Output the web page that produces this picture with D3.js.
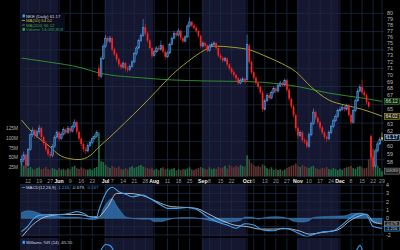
<!DOCTYPE html>
<html>
<head>
<meta charset="utf-8">
<title>NKE Daily</title>
<script src="https://d3js.org/d3.v7.min.js"></script>
<style>
  body { margin: 0; background: #000; }
  svg { display: block; font-family: "Liberation Sans", Arial, sans-serif; }
</style>
</head>
<body>
<div id="chart"></div>
<script>
// daily bars, 7 May 2014 .. 29 Dec 2014 (index = trading day)
var opens = [58.0,58.3,58.9,57.6,59.6,61.5,62.1,61.4,61.9,62.4,
  61.2,60.4,59.6,59.0,58.8,60.0,61.2,61.8,61.0,61.6,
  62.2,61.8,62.4,62.0,62.6,63.2,61.9,61.0,60.3,59.6,
  59.4,60.1,60.5,61.0,61.3,71.0,69.8,72.5,74.5,75.8,
  75.3,75.8,74.0,73.2,72.4,71.6,71.2,71.8,71.0,70.8,
  71.3,72.0,73.3,74.2,75.4,76.2,77.6,76.6,75.4,74.2,
  73.0,73.6,74.2,74.0,74.6,73.6,72.8,73.4,74.8,75.8,
  76.6,76.3,77.0,75.8,75.3,76.0,77.8,78.5,77.9,77.5,
  77.0,76.2,74.5,75.0,74.6,73.8,74.5,74.8,75.0,74.2,
  73.0,72.6,72.2,72.5,71.6,71.0,70.4,70.0,69.5,68.8,
  69.2,69.4,69.3,74.6,72.0,70.4,69.6,68.8,68.2,67.4,
  65.0,66.2,67.0,66.6,67.4,68.0,67.6,68.4,68.8,68.5,
  69.2,67.8,66.5,65.4,64.2,62.4,61.4,61.8,60.8,60.6,
  60.0,61.5,63.0,64.6,63.8,63.2,62.5,61.8,61.2,61.0,
  61.8,62.6,63.4,64.0,64.8,65.0,65.3,65.0,65.5,64.2,
  63.2,64.8,66.2,67.6,68.2,67.4,67.0,66.0,61.3,58.6,
  57.5,59.4,60.3,60.9];
var highs = [58.8,59.3,59.1,59.8,61.8,62.5,62.3,62.2,62.8,62.6,
  61.4,60.7,59.9,59.3,60.3,61.5,62.1,62.0,61.9,62.5,
  62.4,62.7,62.6,62.9,63.6,63.4,62.1,61.2,60.5,59.9,
  60.4,60.8,61.3,61.6,62.1,71.6,72.9,74.9,76.3,76.1,
  76.2,76.0,74.3,73.5,72.7,71.9,72.1,72.0,71.3,71.6,
  72.3,73.6,74.5,75.7,76.6,79.0,78.2,76.9,75.6,74.4,
  73.9,74.5,74.6,75.4,74.8,73.8,73.7,75.1,76.1,77.0,
  76.9,77.4,77.2,76.0,76.3,78.2,79.3,78.7,78.2,77.8,
  77.2,76.4,75.3,75.2,74.8,74.8,75.1,75.3,75.2,74.4,
  73.3,72.9,72.8,72.7,71.8,71.2,70.7,70.2,69.7,69.5,
  69.7,69.6,76.4,74.8,72.2,70.6,69.8,69.0,68.4,67.7,
  66.5,67.3,67.3,67.7,68.3,68.2,68.7,69.1,69.0,69.5,
  69.4,68.0,66.7,65.6,64.4,62.6,62.1,62.0,61.1,60.9,
  61.8,63.3,65.1,64.8,64.0,63.4,62.7,62.0,61.4,62.1,
  62.9,63.7,64.3,65.1,65.4,65.6,65.5,65.8,65.7,64.4,
  65.1,66.5,68.0,68.6,69.3,67.7,67.2,66.2,61.6,58.9,
  59.7,60.6,61.2,61.8];
var lows = [57.6,58.0,57.3,57.4,59.4,61.2,61.0,61.1,61.6,60.9,
  60.1,59.3,58.7,58.5,58.6,59.8,61.0,60.7,60.8,61.4,
  61.5,61.6,61.7,61.8,62.4,61.6,60.7,60.0,59.3,59.0,
  59.2,59.9,60.3,60.8,61.1,69.3,69.5,72.3,74.2,75.0,
  75.0,73.7,72.9,72.0,71.2,70.8,71.0,70.6,70.4,70.6,
  71.1,71.8,73.0,74.0,75.1,76.0,76.3,75.1,73.9,72.6,
  72.8,73.4,73.7,73.8,73.3,72.4,72.6,73.2,74.6,75.6,
  76.0,76.1,75.5,75.0,75.1,75.8,77.6,77.6,77.2,76.7,
  75.9,74.1,74.3,74.3,73.5,73.6,74.3,74.6,73.9,72.7,
  72.3,71.9,72.0,71.3,70.7,70.1,69.7,69.1,68.5,68.6,
  69.0,68.7,69.1,71.7,70.1,69.3,68.5,67.9,67.1,64.6,
  64.8,66.0,66.3,66.4,67.2,67.3,67.4,68.2,68.2,68.3,
  67.5,66.2,65.1,63.9,62.0,61.0,61.2,60.5,60.3,59.7,
  59.8,61.3,62.8,63.5,62.9,62.2,61.5,60.9,60.6,60.8,
  61.6,62.4,63.2,63.8,64.6,64.8,64.7,64.8,63.9,62.9,
  63.0,64.6,66.0,67.4,67.1,66.7,65.7,65.1,58.2,57.0,
  57.3,59.2,60.1,60.7];
var closes = [58.3,58.9,57.6,59.6,61.5,62.1,61.4,61.9,62.4,61.2,
  60.4,59.6,59.0,58.8,60.0,61.2,61.8,61.0,61.6,62.2,
  61.8,62.4,62.0,62.6,63.2,61.9,61.0,60.3,59.6,59.4,
  60.1,60.5,61.0,61.3,61.8,69.8,72.5,74.5,75.8,75.3,
  75.8,74.0,73.2,72.4,71.6,71.2,71.8,71.0,70.8,71.3,
  72.0,73.3,74.2,75.4,76.2,77.6,76.6,75.4,74.2,73.0,
  73.6,74.2,74.0,74.6,73.6,72.8,73.4,74.8,75.8,76.6,
  76.3,77.0,75.8,75.3,76.0,77.8,78.5,77.9,77.5,77.0,
  76.2,74.5,75.0,74.6,73.8,74.5,74.8,75.0,74.2,73.0,
  72.6,72.2,72.5,71.6,71.0,70.4,70.0,69.5,68.8,69.2,
  69.4,69.0,74.8,72.0,70.4,69.6,68.8,68.2,67.4,65.0,
  66.2,67.0,66.6,67.4,68.0,67.6,68.4,68.8,68.5,69.2,
  67.8,66.5,65.4,64.2,62.4,61.4,61.8,60.8,60.6,60.0,
  61.5,63.0,64.6,63.8,63.2,62.5,61.8,61.2,61.0,61.8,
  62.6,63.4,64.0,64.8,65.0,65.3,65.0,65.5,64.2,63.2,
  64.8,66.2,67.6,68.2,67.4,67.0,66.0,65.4,58.6,57.4,
  59.4,60.3,60.9,61.17];
// volume in millions
var volumes = [35,28,30,22,25,20,18,22,24,19,
  21,25,20,18,22,20,17,22,18,20,
  17,21,19,25,28,22,20,24,21,19,
  18,20,17,22,25,115,40,38,30,25,
  22,28,24,22,26,20,18,22,19,24,
  27,22,25,28,30,26,24,22,20,23,
  18,20,17,22,24,19,21,18,20,22,
  16,19,17,20,18,21,24,19,17,20,
  22,25,22,20,18,24,19,21,20,25,
  22,24,28,21,30,26,24,28,25,30,
  27,26,55,45,35,30,26,28,25,32,
  28,22,20,24,18,20,17,19,16,18,
  22,25,28,30,34,28,25,30,27,24,
  22,26,28,22,20,19,23,21,25,20,
  18,22,19,17,20,18,22,24,26,28,
  22,20,25,27,24,21,23,45,105,72,
  38,28,22,14.09];

// moving averages, read at sample days
var ma50Idx = [0,5,13,17,22,26,31,35,40,47,54,61,68,75,83,87,96,103,111,118,124,131,139,146,154,163];
var ma50Val = [63.5,61.8,59.9,58.9,58.4,58.3,58.8,59.9,61.2,63.2,65.3,67.6,70.0,72.0,73.9,74.5,74.3,73.9,72.8,71.7,70.5,68.2,66.3,65.6,65.0,64.02];
var ma200Idx = [0,12,27,35,40,53,68,83,103,117,126,139,154,163];
var ma200Val = [72.6,72.0,71.1,70.3,70.0,69.6,69.25,69.1,69.0,68.65,68.2,67.3,66.6,66.12];

// MACD(12,26,9)
var macdIdx = [0,3,5,8,13,17,22,25,28,31,34,35,39,41,44,48,50,55,58,63,66,70,75,79,84,88,93,97,101,105,109,114,118,121,126,129,132,135,141,144,149,153,156,159,163];
var macdVal = [-1.6,-0.9,-0.2,0.35,0.45,0.45,0.6,0.8,0.6,0.15,0.2,1.0,3.4,3.75,3.2,2.8,2.6,2.8,2.4,1.6,1.2,1.2,1.3,1.1,0.2,-0.4,-0.8,-1.2,-0.65,-0.8,-1.4,-1.5,-1.2,-1.3,-1.9,-2.2,-1.95,-1.7,-1.5,-1.0,0.1,0.6,0.4,-1.0,-1.216];
var sigIdx = [0,5,10,14,20,26,31,34,39,43,48,54,58,63,68,75,79,84,90,96,102,108,114,120,126,130,136,143,149,153,156,159,163];
var sigVal = [-2.3,-0.8,0.1,0.35,0.45,0.45,0.2,0.1,1.4,3.0,3.0,2.8,2.4,1.8,1.4,1.3,1.2,0.6,-0.2,-0.8,-1.0,-1.3,-1.3,-1.25,-1.55,-1.9,-1.7,-1.4,-0.2,0.3,0.5,-0.4,-0.679];
var histIdx = [0,3,6,9,12,16,20,25,28,30,33,35,37,39,41,43,45,47,50,54,58,60,63,66,70,76,80,84,88,92,96,99,101,104,107,110,114,118,121,123,127,130,132,136,141,146,150,154,156,158,160,163];
var histVal = [0.7,0.9,0.8,0.5,0.3,0.25,0.15,0.15,0.0,-0.1,-0.15,0.0,1.2,2.0,2.4,1.5,0.8,0.2,0.0,-0.1,-0.1,-0.4,-0.4,-0.2,0.05,0.1,0.0,-0.2,-0.4,-0.5,-0.4,-0.25,0.15,0.15,-0.1,0.1,0.2,0.15,-0.1,-0.35,-0.45,-0.3,0.1,0.2,0.25,0.3,0.6,0.5,0.3,-0.3,-0.6,-0.537];

// Williams %R(14), only the tops reach into view
var wrIdx = [0,33,36,38,40,43,47,99,102,105,149,152,153,155,160,163];
var wrVal = [-60,-50,-18,-3,-6,-35,-60,-50,-22,-55,-45,-14,-5,-35,-80,-65.55];

// axis labels
var tickIdx = [3,8,13,17,22,27,32,38,41,46,51,56,60,66,71,76,82,85,90,95,102,105,110,115,120,125,130,135,140,144,149,154,159,163];
var tickLabels = ["12","19","27","Jun","9","16","23","Jul","7","14","21","28","Aug","11","18","25","Sep","8","15","22","Oct","6","13","20","27","Nov","10","17","24","Dec","8","15","22","29"];
var monthStarts = [0,17,38,60,82,102,125,144];
var priceTicks = [57,58,59,60,61,62,63,64,65,66,67,68,69,70,71,72,73,74,75,76,77,78,79,80];
var volTicks = [25,50,75,100,125];
var volTickLabels = ["25M","50M","75M","100M","125M"];
var macdTicks = [-2,-1,0,1,2,3,4];

var W = 400, H = 250;
var left = 20, right = 384;
var panels = [[0, 177], [184, 236.5], [238, 250]];
var n = closes.length;

var x = d3.scaleLinear().domain([0, n - 1]).range([21.5, 382]);
var y = d3.scaleLog().domain([57, 79]).range([170, 19]);
var yVol = d3.scaleLinear().domain([0, 125]).range([176.5, 128.7]);
var yMacd = d3.scaleLinear().domain([-2, 4]).range([234.9, 185.1]);
var yW = d3.scaleLinear().domain([-100, 0]).range([278, 243.5]);

var svg = d3.select("#chart").append("svg")
    .attr("width", W).attr("height", H)
    .style("background", "#000");

var defs = svg.append("defs");
panels.forEach(function(p, i) {
  defs.append("clipPath").attr("id", "clip" + i)
    .append("rect").attr("x", left).attr("y", p[0])
    .attr("width", right - left).attr("height", p[1] - p[0]);
});

// month bands + grid in each panel
panels.forEach(function(p, pi) {
  var g = svg.append("g").attr("clip-path", "url(#clip" + pi + ")");
  monthStarts.forEach(function(s, i) {
    var x0 = i === 0 ? left : x(s - 0.5);
    var x1 = i === monthStarts.length - 1 ? right : x(monthStarts[i + 1] - 0.5);
    g.append("rect").attr("x", x0).attr("y", p[0])
      .attr("width", x1 - x0).attr("height", p[1] - p[0])
      .attr("fill", i % 2 === 0 ? "#15162f" : "#000");
  });
  g.selectAll("line.v").data(tickIdx).enter().append("line")
    .attr("x1", function(d) { return x(d); }).attr("x2", function(d) { return x(d); })
    .attr("y1", p[0]).attr("y2", p[1])
    .attr("stroke", "#1b2b42").attr("stroke-width", 0.8);
  var hs = pi === 0 ? d3.range(10).map(function(k) { return 13.3 + k * 18.3; })
         : pi === 1 ? macdTicks.map(function(d) { return yMacd(d); }) : [];
  g.selectAll("line.h").data(hs).enter().append("line")
    .attr("x1", left).attr("x2", right)
    .attr("y1", function(d) { return d; }).attr("y2", function(d) { return d; })
    .attr("stroke", "#1b2b42").attr("stroke-width", 0.8);
});

var main = svg.append("g").attr("clip-path", "url(#clip0)");
var bw = 1.7;

// volume
main.selectAll("rect.vol").data(d3.range(n)).enter().append("rect")
  .attr("x", function(i) { return x(i) - bw / 2; })
  .attr("width", bw)
  .attr("y", function(i) { return yVol(volumes[i]); })
  .attr("height", function(i) { return yVol(0) - yVol(volumes[i]); })
  .attr("fill", function(i) { return (i === 0 || closes[i] >= closes[i - 1]) ? "#1f6a44" : "#5c3333"; });

// moving averages
var maLine = d3.line().curve(d3.curveMonotoneX)
  .x(function(d) { return x(d[0]); }).y(function(d) { return y(d[1]); });
main.append("path").datum(d3.zip(ma200Idx, ma200Val))
  .attr("d", maLine).attr("fill", "none").attr("stroke", "#2d8a2d").attr("stroke-width", 1);
main.append("path").datum(d3.zip(ma50Idx, ma50Val))
  .attr("d", maLine).attr("fill", "none").attr("stroke", "#a59c2c").attr("stroke-width", 1);

// candles
function candleColor(i) {
  if (i === n - 1) return "#e6d64a";
  return closes[i] >= opens[i] ? "#4d9ae6" : "#ff2020";
}
var candles = main.selectAll("g.c").data(d3.range(n)).enter().append("g");
candles.append("line")
  .attr("x1", function(i) { return x(i); }).attr("x2", function(i) { return x(i); })
  .attr("y1", function(i) { return y(highs[i]); }).attr("y2", function(i) { return y(lows[i]); })
  .attr("stroke", candleColor).attr("stroke-width", 0.6);
candles.append("rect")
  .attr("x", function(i) { return x(i) - bw / 2; })
  .attr("width", bw)
  .attr("y", function(i) { return y(Math.max(opens[i], closes[i])); })
  .attr("height", function(i) { return Math.max(0.8, Math.abs(y(opens[i]) - y(closes[i]))); })
  .attr("fill", function(i) {
    if (i === n - 1) return "#e6d64a";
    return closes[i] >= opens[i] ? "#24568c" : "#ff2020";
  })
  .attr("stroke", function(i) { return closes[i] >= opens[i] && i !== n - 1 ? "#5aa6f0" : "none"; })
  .attr("stroke-width", 0.5);

// MACD panel
var mg = svg.append("g").attr("clip-path", "url(#clip1)");
var hArea = d3.area().curve(d3.curveMonotoneX)
  .x(function(d) { return x(d[0]); }).y0(yMacd(0)).y1(function(d) { return yMacd(d[1]); });
mg.append("path").datum(d3.zip(histIdx, histVal))
  .attr("d", hArea).attr("fill", "#2f6ea8").attr("fill-opacity", 0.85)
  .attr("stroke", "#4e9ad8").attr("stroke-width", 0.4);
var mLine = d3.line().curve(d3.curveMonotoneX)
  .x(function(d) { return x(d[0]); }).y(function(d) { return yMacd(d[1]); });
mg.append("path").datum(d3.zip(sigIdx, sigVal))
  .attr("d", mLine).attr("fill", "none").attr("stroke", "#c4c8cc").attr("stroke-width", 0.9);
mg.append("path").datum(d3.zip(macdIdx, macdVal))
  .attr("d", mLine).attr("fill", "none").attr("stroke", "#3fa2f0").attr("stroke-width", 1.1);

// Williams %R panel
var wg = svg.append("g").attr("clip-path", "url(#clip2)");
wg.append("path").datum(d3.zip(wrIdx, wrVal))
  .attr("d", d3.line().curve(d3.curveMonotoneX)
    .x(function(d) { return x(d[0]); }).y(function(d) { return yW(d[1]); }))
  .attr("fill", "none").attr("stroke", "#3fa2f0").attr("stroke-width", 1.1);

// value boxes on the right (positions in px, used to hide covered tick labels)
var boxes = [
  {y: y(ma200Val[ma200Val.length - 1]), t: "66.12", s: "#3a8a3a", f: "#0d260d", c: "#d8d8d8"},
  {y: y(ma50Val[ma50Val.length - 1]), t: "64.02", s: "#b0a630", f: "#262308", c: "#e8e8e8"},
  {y: y(closes[n - 1]), t: "61.17", s: "#8fb4dc", f: "#0b1a30", c: "#ffffff"},
  {y: yVol(volumes[n - 1]), t: "14092859", s: "#8a8a8a", f: "#1c1c1c", c: "#d0d0d0"},
  {y: yMacd(sigVal[sigVal.length - 1]) - 0.4, t: "-0.679", s: "#a0a0a0", f: "#1a1a1a", c: "#d0d0d0"},
  {y: yMacd(macdVal[macdVal.length - 1]) + 0.4, t: "-1.216", s: "#4aa0e0", f: "#0b1a30", c: "#d0d0d0"}
];
function covered(py) {
  return boxes.some(function(b) { return Math.abs(b.y - py) < 5.2; });
}

// right price axis
var axisFont = 5.4;
svg.selectAll("text.pt").data(priceTicks.filter(function(d) { return !covered(y(d)); }))
  .enter().append("text")
  .attr("x", 387).attr("y", function(d) { return y(d); }).attr("dy", "0.35em")
  .attr("font-size", axisFont).attr("fill", "#b8b8b8").text(function(d) { return d; });
svg.selectAll("text.mt").data(macdTicks.filter(function(d) { return !covered(yMacd(d)); }))
  .enter().append("text")
  .attr("x", 386).attr("y", function(d) { return yMacd(d); }).attr("dy", "0.35em")
  .attr("font-size", axisFont).attr("fill", "#b8b8b8").text(function(d) { return d; });

boxes.forEach(function(b) {
  var h = b.y > 180 ? 4.6 : 6;
  svg.append("rect").attr("x", 384.5).attr("y", b.y - h / 2).attr("width", 15).attr("height", h)
    .attr("fill", b.f).attr("stroke", b.s).attr("stroke-width", 0.6);
  var txt = svg.append("text").attr("x", 385.5).attr("y", b.y).attr("dy", "0.35em")
    .attr("font-size", b.t.length > 6 ? 3.6 : (b.y > 180 ? 4.2 : 4.9))
    .attr("fill", b.c).text(b.t);
  if (b.t.length > 6) txt.attr("textLength", 13).attr("lengthAdjust", "spacingAndGlyphs");
});

// left volume axis
svg.selectAll("text.vt").data(volTicks).enter().append("text")
  .attr("x", 18).attr("y", function(d) { return yVol(d); }).attr("dy", "0.35em")
  .attr("text-anchor", "end").attr("font-size", 4.8).attr("fill", "#b0b0b0")
  .text(function(d, i) { return volTickLabels[i]; });

// date axis
svg.selectAll("text.dt").data(tickIdx).enter().append("text")
  .attr("x", function(d) { return x(d); }).attr("y", 182.6)
  .attr("text-anchor", "middle").attr("font-size", 5.2)
  .attr("font-weight", function(d, i) { return isNaN(+tickLabels[i]) ? "bold" : "normal"; })
  .attr("fill", function(d, i) { return isNaN(+tickLabels[i]) ? "#f2f2f2" : "#9a9a9a"; })
  .text(function(d, i) { return tickLabels[i]; });

// legends
var lg = svg.append("g").attr("font-size", 4.3);
lg.append("rect").attr("x", 21).attr("y", 13).attr("width", 44).attr("height", 19)
  .attr("fill", "#0d0e20").attr("fill-opacity", 0.8);
var legendRows = [
  {t: "NKE (Daily) 61.17", c: "#cfd6e0", icon: "#4d9ae6"},
  {t: "MA(50) 64.02", c: "#c2b838", icon: "#c2b838"},
  {t: "MA(200) 66.12", c: "#36a036", icon: "#36a036"},
  {t: "Volume 14,092,859", c: "#2ea05c", icon: "#2ea05c"}
];
legendRows.forEach(function(r, i) {
  var yy = 16 + i * 4.5;
  if (i === 0 || i === 3) {
    lg.append("rect").attr("x", 22.5).attr("y", yy - 1.6).attr("width", 2.4).attr("height", 3)
      .attr("fill", r.icon);
  } else {
    lg.append("line").attr("x1", 22).attr("x2", 25).attr("y1", yy).attr("y2", yy)
      .attr("stroke", r.icon).attr("stroke-width", 0.8);
  }
  lg.append("text").attr("x", 26).attr("y", yy).attr("dy", "0.35em")
    .attr("fill", r.c).text(r.t);
});

var ml = svg.append("g").attr("font-size", 4.3);
ml.append("line").attr("x1", 22).attr("x2", 25).attr("y1", 187.5).attr("y2", 187.5)
  .attr("stroke", "#3fa2f0").attr("stroke-width", 0.8);
var mt = ml.append("text").attr("x", 26).attr("y", 187.5).attr("dy", "0.35em");
mt.append("tspan").attr("fill", "#cfd6e0").text("MACD(12,26,9) ");
mt.append("tspan").attr("fill", "#3fa2f0").text("-1.216, ");
mt.append("tspan").attr("fill", "#c4c8cc").text("-0.679, ");
mt.append("tspan").attr("fill", "#3f86c8").text("-0.537");

ml.append("rect").attr("x", 22.5).attr("y", 240.8).attr("width", 2.4).attr("height", 3)
  .attr("fill", "#3fa2f0");
ml.append("text").attr("x", 26).attr("y", 242.3).attr("dy", "0.35em")
  .attr("fill", "#cfd6e0").text("Williams %R (14) -65.55");
</script>
</body>
</html>
